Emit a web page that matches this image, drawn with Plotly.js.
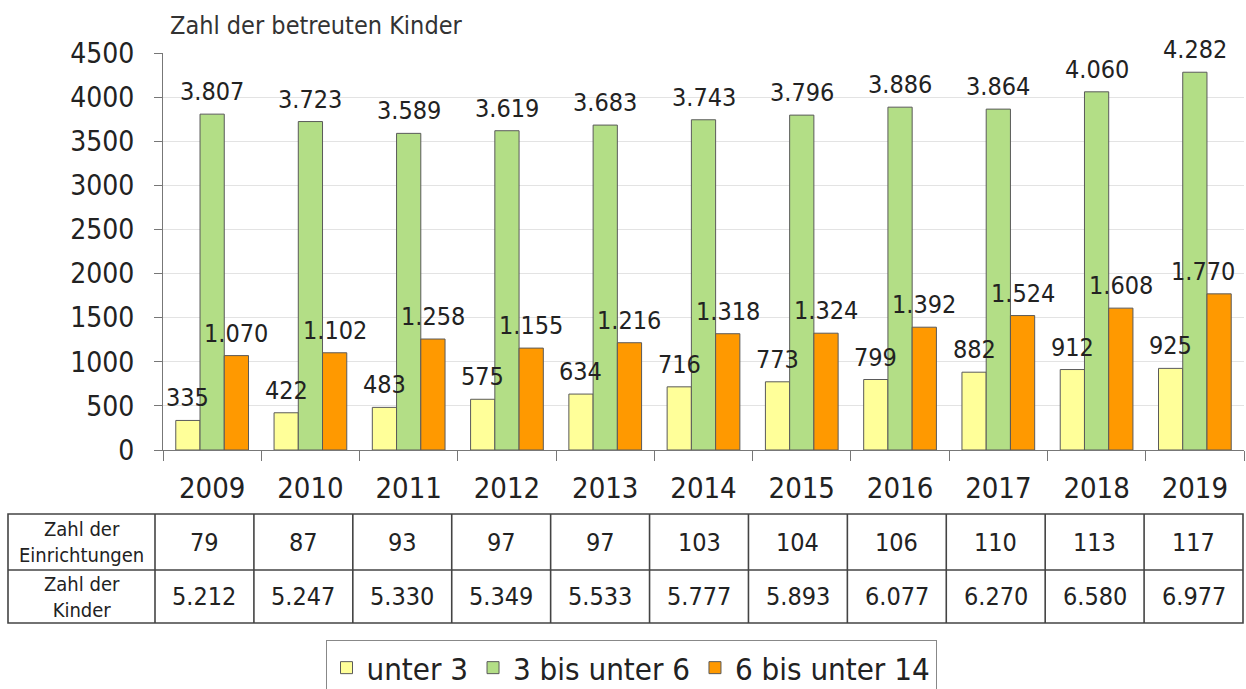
<!DOCTYPE html>
<html>
<head>
<meta charset="utf-8">
<script src="https://cdn.plot.ly/plotly-3.0.1.min.js"></script>
<style>html,body{margin:0;padding:0;background:#fff;}#chart{width:1246px;height:689px;}</style>
</head>
<body>
<div id="chart"></div>
<script>
// ---- data ----
const years = ['2009','2010','2011','2012','2013','2014','2015','2016','2017','2018','2019'];
const seriesNames = ['unter 3', '3 bis unter 6', '6 bis unter 14'];
const unter3 = [335, 422, 483, 575, 634, 716, 773, 799, 882, 912, 925];
const bis6 = [3807, 3723, 3589, 3619, 3683, 3743, 3796, 3886, 3864, 4060, 4282];
const bis14 = [1070, 1102, 1258, 1155, 1216, 1318, 1324, 1392, 1524, 1608, 1770];
const rowLabels = ['Zahl der<br>Einrichtungen', 'Zahl der<br>Kinder'];
const einrichtungen = [79, 87, 93, 97, 97, 103, 104, 106, 110, 113, 117];
const kinder = [5212, 5247, 5330, 5349, 5533, 5777, 5893, 6077, 6270, 6580, 6977];
const yTicks = [0, 500, 1000, 1500, 2000, 2500, 3000, 3500, 4000, 4500];

// ---- styling / layout constants ----
const W = 1246, H = 689;
const FONT = '"DejaVu Sans Condensed", "DejaVu Sans", sans-serif';
const colors = ['#ffff99', '#b3de86', '#ff9900'];
const plotL = 163, plotR = 1244, plotT = 53, plotB = 450;
const bargap = 0.26;
const tabL = 8, tabR = 1243, tabT = 514, tabMid = 570, tabB = 623, tabCol0 = 155;

const fmt = n => String(n).replace(/\B(?=(\d{3})+(?!\d))/g, '.');
const px = x => x / W;
const py = y => 1 - y / H;

const series = [unter3, bis6, bis14];
const traces = series.map((vals, s) => ({
  type: 'bar',
  name: seriesNames[s],
  x: years,
  y: vals,
  marker: {color: colors[s], line: {color: '#5a5a5a', width: 1}},
  hoverinfo: 'x+y'
}));

// bar value labels (annotations tied to the data scales; x = category index)
const catPx = (plotR - plotL) / years.length;
const barPx = catPx * (1 - bargap) / series.length;
const annotations = [];
series.forEach((vals, s) => {
  vals.forEach((v, i) => {
    const atEdge = (i === years.length - 1 && s === series.length - 1);
    annotations.push({
      xref: 'x', yref: 'y', x: i, y: v,
      xshift: (s - 1) * barPx + (atEdge ? barPx / 2 + 6 : 0), yshift: 6,
      yanchor: 'bottom', xanchor: atEdge ? 'right' : 'center',
      text: fmt(v), showarrow: false,
      font: {family: FONT, size: 25, color: '#222'}
    });
  });
});

// data table below the chart
const shapes = [];
const lineStyle = {color: '#444', width: 1.6};
shapes.push({type: 'rect', xref: 'paper', yref: 'paper', x0: px(tabL), x1: px(tabR), y0: py(tabB), y1: py(tabT), line: lineStyle});
shapes.push({type: 'line', xref: 'paper', yref: 'paper', x0: px(tabL), x1: px(tabR), y0: py(tabMid), y1: py(tabMid), line: lineStyle});
const colW = (tabR - tabCol0) / years.length;
for (let i = 0; i < years.length; i++) {
  const xl = tabCol0 + i * colW;
  shapes.push({type: 'line', xref: 'paper', yref: 'paper', x0: px(xl), x1: px(xl), y0: py(tabB), y1: py(tabT), line: lineStyle});
}
const rowCenters = [(tabT + tabMid) / 2, (tabMid + tabB) / 2];
const rows = [einrichtungen, kinder];
rows.forEach((vals, r) => {
  annotations.push({
    xref: 'paper', yref: 'paper', x: px((tabL + tabCol0) / 2), y: py(rowCenters[r]),
    text: rowLabels[r], showarrow: false, xanchor: 'center', yanchor: 'middle',
    font: {family: FONT, size: 20, color: '#222'}
  });
  vals.forEach((v, i) => {
    annotations.push({
      xref: 'paper', yref: 'paper', x: px(tabCol0 + (i + 0.5) * colW), y: py(rowCenters[r]),
      text: fmt(v), showarrow: false, xanchor: 'center', yanchor: 'middle',
      font: {family: FONT, size: 25, color: '#222'}
    });
  });
});

const layout = {
  width: W, height: H,
  margin: {l: 0, r: 0, t: 0, b: 0, autoexpand: false},
  paper_bgcolor: '#fff', plot_bgcolor: '#fff',
  font: {family: FONT, color: '#222'},
  title: {
    text: 'Zahl der betreuten Kinder',
    x: px(170), xref: 'paper', xanchor: 'left',
    y: py(25), yref: 'paper', yanchor: 'middle',
    font: {family: FONT, size: 25, color: '#333'}
  },
  barmode: 'group',
  bargap: bargap,
  bargroupgap: 0,
  xaxis: {
    domain: [px(plotL), px(plotR)],
    type: 'category',
    range: [-0.5, years.length - 0.5],
    autorange: false,
    tickson: 'boundaries',
    ticks: 'outside', ticklen: 10, tickcolor: '#777', tickwidth: 1,
    showline: true, linecolor: '#777', linewidth: 1,
    showgrid: false, zeroline: false,
    tickfont: {family: FONT, size: 29, color: '#222'},
    tickangle: 0,
    ticklabelstandoff: 12,
    automargin: false,
    fixedrange: true
  },
  yaxis: {
    domain: [py(plotB), py(plotT)],
    range: [0, 4500],
    autorange: false,
    tickvals: yTicks,
    ticktext: yTicks.map(String),
    ticks: 'outside', ticklen: 8, tickcolor: '#777', tickwidth: 1,
    showline: true, linecolor: '#777', linewidth: 1,
    showgrid: true, gridcolor: '#e3e3e3', gridwidth: 1,
    zeroline: false,
    tickfont: {family: FONT, size: 28, color: '#222'},
    ticklabelstandoff: 14,
    automargin: false,
    fixedrange: true
  },
  showlegend: true,
  legend: {
    orientation: 'h',
    x: px(631), xanchor: 'center',
    y: py(640), yanchor: 'top',
    bordercolor: '#888', borderwidth: 1,
    font: {family: FONT, size: 31, color: '#222'},
    itemclick: false, itemdoubleclick: false,
    traceorder: 'normal'
  },
  annotations: annotations,
  shapes: shapes
};

Plotly.newPlot('chart', traces, layout, {displayModeBar: false, staticPlot: true});
</script>
</body>
</html>
